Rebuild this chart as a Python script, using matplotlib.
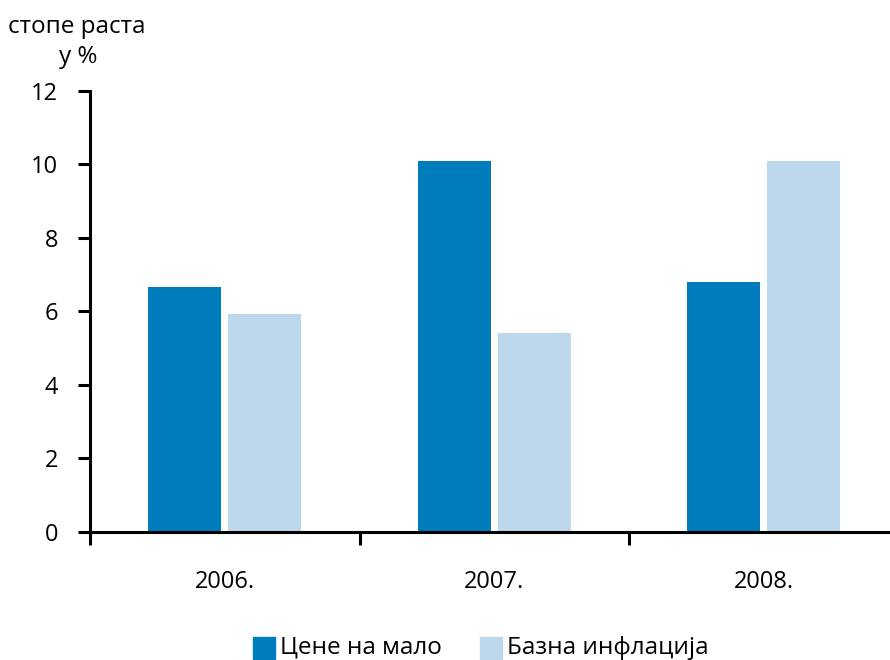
import matplotlib
matplotlib.use("Agg")
import matplotlib.pyplot as plt
import numpy as np
from matplotlib.patches import Rectangle

plt.rcParams['font.family'] = ['Open Sans', 'DejaVu Sans']

years = ["2006.", "2007.", "2008."]
retail_prices = [6.67, 10.1, 6.8]
core_inflation = [5.94, 5.4, 10.1]
series_names = ["Цене на мало", "Базна инфлација"]
colors = ["#007bbb", "#bdd7ed"]
yticks = [0, 2, 4, 6, 8, 10, 12]

W, H = 890, 660
fig = plt.figure(figsize=(W / 100, H / 100), dpi=100)
ax_left, ax_right = 90 / W, 1.0
ax_bottom, ax_top = 1 - 532 / H, 1 - 90.7 / H
ax = fig.add_axes([ax_left, ax_bottom, ax_right - ax_left, ax_top - ax_bottom])

x = np.arange(len(years))
bw = 0.271
off = 0.1485
ax.bar(x - off, retail_prices, bw, color=colors[0], zorder=2)
ax.bar(x + off, core_inflation, bw, color=colors[1], zorder=2)

ax.set_ylim(0, 12)
ax.set_xlim(-0.5, -0.5 + (W - 90) / 269.5)
ax.set_yticks(yticks)
ax.set_yticklabels([str(v) for v in yticks])
ax.set_xticks([-0.5, 0.5, 1.5])
ax.set_xticklabels([])
ax.set_xticks(x, minor=True)
ax.set_xticklabels(years, minor=True)
ax.tick_params(axis='x', which='minor', length=0, pad=27, labelsize=17)
ax.tick_params(axis='x', which='major', direction='out', length=9, width=2.2)
ax.tick_params(axis='y', direction='out', length=9, width=2.2, pad=14, labelsize=17)

for s in ['top', 'right']:
    ax.spines[s].set_visible(False)
for s in ['left', 'bottom']:
    ax.spines[s].set_linewidth(2.2)

fig.text(8 / W, 1 - 33 / H, "стопе раста", fontsize=17.5, ha='left', va='baseline')
fig.text(78 / W, 1 - 63 / H, "у %", fontsize=17.5, ha='center', va='baseline')

# legend
for name, c, px in zip(series_names, colors, [253, 480]):
    fig.patches.append(Rectangle((px / W, 1 - 659 / H), 22 / W, 22 / H,
                                 transform=fig.transFigure, color=c))
    fig.text((px + 27) / W, 1 - 654 / H, name, fontsize=17.5, ha='left', va='baseline')

fig.savefig("out.png", dpi=100)
